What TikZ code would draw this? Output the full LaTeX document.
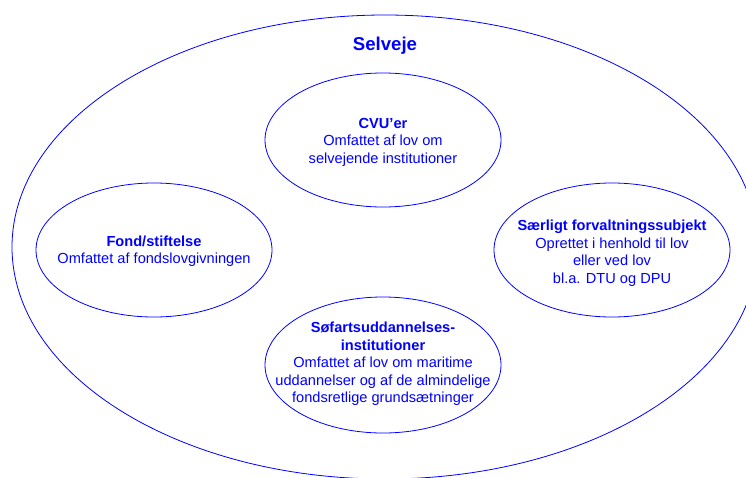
\documentclass[tikz,border=0pt]{standalone}
\usepackage{fontspec}
\setmainfont{Liberation Sans}
\usepackage{tikz}
\definecolor{selvblue}{RGB}{0,0,255}
\tikzset{
	ring/.style={draw=selvblue, line width=0.8pt},
	txt/.style={text=selvblue, align=center, inner sep=0pt,
		font=\fontsize{14.6}{17.5}\selectfont},
	head/.style={text=selvblue, inner sep=0pt,
		font=\fontsize{18.6}{22}\selectfont\bfseries}
}

\begin{document}
\begin{tikzpicture}[x=1pt, y=-1pt]
		%%%%% START %%%%%
		\useasboundingbox (0, 0) rectangle (746, 477);
		\clip (0, 0) rectangle (746, 477);
		
		\draw[ring] (385, 247) ellipse (373pt and 232pt);
		\node[head] (selveje) at (385, 46) {Selveje};
		
		\draw[ring] (383, 140) ellipse (118pt and 67pt);
		\node[txt] (cvu) at (383, 142) {\textbf{CVU’er}\\Omfattet af lov om\\selvejende institutioner};
		
		\draw[ring] (154, 250) ellipse (118pt and 67pt);
		\node[txt] (fond) at (154, 251) {\textbf{Fond/stiftelse}\\Omfattet af fondslovgivningen};
		
		\draw[ring] (612, 250) ellipse (118pt and 67pt);
		\node[txt] (saerligt) at (612, 253) {\textbf{Særligt forvaltningssubjekt}\\Oprettet i henhold til lov\\eller ved lov\\bl.a. DTU og DPU};
		
		\draw[ring] (383, 365) ellipse (118pt and 68pt);
		\node[txt] (sofart) at (383, 364) {\textbf{Søfartsuddannelses-}\\\textbf{institutioner}\\Omfattet af lov om maritime\\uddannelser og af de almindelige\\fondsretlige grundsætninger};
		%%%%% END %%%%%
	\end{tikzpicture}
\end{document}
